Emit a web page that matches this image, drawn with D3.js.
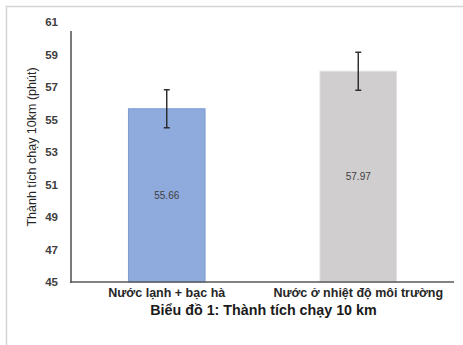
<!DOCTYPE html>
<html>
<head>
<meta charset="utf-8">
<script src="https://cdn.jsdelivr.net/npm/d3@7"></script>
<style>
  html, body { margin: 0; padding: 0; background: #fff; }
  svg { display: block; font-family: "Liberation Sans", Arial, sans-serif; }
</style>
</head>
<body>
<svg id="chart" width="463" height="345"></svg>
<script>
// Thành tích chạy 10 km theo loại nước uống
const categories = ["Nước lạnh + bạc hà", "Nước ở nhiệt độ môi trường"];
const means = [55.66, 57.97];
const errors = [1.17, 1.17];
const barColors = ["#8faadc", "#d0cece"];
const barStrokes = ["#7d9bd2", "#e2e2e2"];
const yTicks = [45, 47, 49, 51, 53, 55, 57, 59, 61];
const yTitle = "Thành tích chạy 10km (phút)";
const chartTitle = "Biểu đồ 1: Thành tích chạy 10 km";

const svg = d3.select("#chart");
const W = 463, H = 345;
const margin = { top: 22, right: 9, bottom: 63, left: 71 };

// outer frame
svg.append("rect")
  .attr("x", 6.5).attr("y", 6.5)
  .attr("width", W).attr("height", H)
  .attr("fill", "#fff").attr("stroke", "#d4d4d4").attr("stroke-width", 1.5);

const x = d3.scaleBand()
  .domain(categories)
  .range([margin.left, W - margin.right])
  .paddingInner(0.6).paddingOuter(0.3);

const y = d3.scaleLinear()
  .domain([45, 61])
  .range([H - margin.bottom, margin.top]);

// bars
svg.selectAll("rect.bar").data(categories).join("rect")
  .attr("class", "bar")
  .attr("x", d => x(d))
  .attr("width", x.bandwidth())
  .attr("y", (d, i) => y(means[i]))
  .attr("height", (d, i) => y(45) - y(means[i]))
  .attr("fill", (d, i) => barColors[i])
  .attr("stroke", (d, i) => barStrokes[i])
  .attr("stroke-width", 1);

// value labels in the middle of each bar
svg.selectAll("text.val").data(categories).join("text")
  .attr("class", "val")
  .attr("x", d => x(d) + x.bandwidth() / 2)
  .attr("y", (d, i) => (y(means[i]) + y(45)) / 2)
  .attr("dy", "0.35em")
  .attr("text-anchor", "middle")
  .attr("font-size", 10)
  .attr("fill", "#404040")
  .text((d, i) => means[i].toFixed(2));

// error bars
const eb = svg.selectAll("g.err").data(categories).join("g")
  .attr("class", "err")
  .attr("stroke", "#262626")
  .attr("stroke-width", 1.4);
eb.append("line")
  .attr("x1", d => x(d) + x.bandwidth() / 2)
  .attr("x2", d => x(d) + x.bandwidth() / 2)
  .attr("y1", (d, i) => y(means[i] + errors[i]))
  .attr("y2", (d, i) => y(means[i] - errors[i]));
[1, -1].forEach(s => {
  eb.append("line")
    .attr("x1", d => x(d) + x.bandwidth() / 2 - 3)
    .attr("x2", d => x(d) + x.bandwidth() / 2 + 3)
    .attr("y1", (d, i) => y(means[i] + s * errors[i]))
    .attr("y2", (d, i) => y(means[i] + s * errors[i]));
});

// y axis
const yAxis = svg.append("g")
  .attr("transform", `translate(${margin.left},0)`)
  .call(d3.axisLeft(y).tickValues(yTicks).tickSize(0).tickPadding(13));
yAxis.select(".domain").remove();
yAxis.selectAll("text")
  .attr("font-family", "Liberation Sans, Arial, sans-serif")
  .attr("font-size", 11.5)
  .attr("font-weight", "bold")
  .attr("fill", "#404040");
yAxis.append("line")
  .attr("x1", 0).attr("x2", 0)
  .attr("y1", y(61) + 9).attr("y2", y(45) + 1)
  .attr("stroke", "#595959").attr("stroke-width", 1.6);

// x axis
const xAxis = svg.append("g")
  .attr("transform", `translate(0,${y(45)})`)
  .call(d3.axisBottom(x).tickSize(0).tickPadding(6));
xAxis.select(".domain").remove();
xAxis.selectAll("text")
  .attr("font-family", "Liberation Sans, Arial, sans-serif")
  .attr("font-size", 12.5)
  .attr("font-weight", "bold")
  .attr("fill", "#262626");
xAxis.append("line")
  .attr("x1", margin.left - 1).attr("x2", W - margin.right)
  .attr("y1", 0).attr("y2", 0)
  .attr("stroke", "#595959").attr("stroke-width", 1.6);

// y axis title
svg.append("text")
  .attr("transform", `translate(32,147) rotate(-90)`)
  .attr("text-anchor", "middle")
  .attr("dy", "0.35em")
  .attr("font-size", 12.5)
  .attr("fill", "#262626")
  .text(yTitle);

// chart title
svg.append("text")
  .attr("x", (margin.left + W - margin.right) / 2 + 1)
  .attr("y", 315)
  .attr("text-anchor", "middle")
  .attr("font-size", 14.3)
  .attr("font-weight", "bold")
  .attr("fill", "#1a1a1a")
  .text(chartTitle);
</script>
</body>
</html>
